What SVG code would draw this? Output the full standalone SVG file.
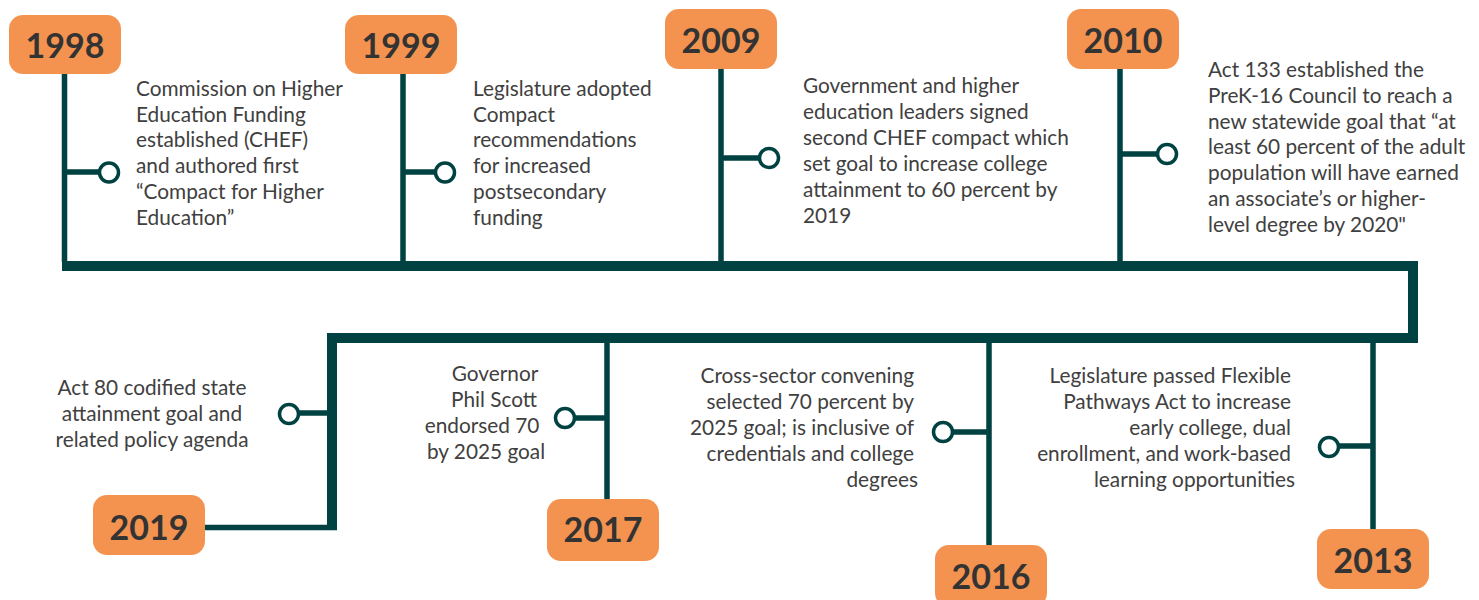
<svg xmlns="http://www.w3.org/2000/svg" width="1479" height="600" viewBox="0 0 1479 600">
<style>
.box{fill:#F4934F}
.yr{font-family:Lato,"Noto Sans",sans-serif;font-weight:700;font-size:34px;fill:#333333;text-anchor:middle}
.t{font-family:Lato,"Noto Sans",sans-serif;font-size:20.8px;fill:#404040}
.e{text-anchor:end}
.m{text-anchor:middle}
.stem{stroke:#004242;stroke-width:5.5;fill:none}
.main{stroke:#004242;stroke-width:10;fill:none;stroke-linejoin:miter}
.dot{fill:#fff;stroke:#004242;stroke-width:3.5}
</style>
<rect width="1479" height="600" fill="#fff"/>
<g id="connectors">
<path class="main" d="M62,266 H1413 V338 H332 V530"/>
<path class="stem" d="M205,527.5 H337"/>
<path class="stem" d="M64.5,74 V262 M64.5,172 H100"/>
<path class="stem" d="M403,74 V262 M403,172 H436"/>
<path class="stem" d="M721,69 V262 M721,158 H760"/>
<path class="stem" d="M1120,69 V262 M1120,154 H1158"/>
<path class="stem" d="M298,413 H328"/>
<path class="stem" d="M607,342 V499 M574,418 H607"/>
<path class="stem" d="M989,342 V545 M952,432 H989"/>
<path class="stem" d="M1373,342 V529 M1338,446 H1373"/>
</g>
<g id="n1998">
<rect class="box" x="9" y="15" width="112" height="59" rx="14"/>
<text class="yr" x="65" y="58">1998</text>
<circle class="dot" cx="109" cy="172.5" r="9.5"/>
<text class="t" x="136" y="96"><tspan x="136">Commission on Higher</tspan><tspan x="136" dy="25.7">Education Funding</tspan><tspan x="136" dy="25.7">established (CHEF)</tspan><tspan x="136" dy="25.7">and authored first</tspan><tspan x="136" dy="25.7">“Compact for Higher</tspan><tspan x="136" dy="25.7">Education”</tspan></text>
</g>
<g id="n1999">
<rect class="box" x="345" y="15" width="112" height="59" rx="14"/>
<text class="yr" x="401" y="58">1999</text>
<circle class="dot" cx="445" cy="172.5" r="9.5"/>
<text class="t" x="473" y="96"><tspan x="473">Legislature adopted</tspan><tspan x="473" dy="25.7">Compact</tspan><tspan x="473" dy="25.7">recommendations</tspan><tspan x="473" dy="25.7">for increased</tspan><tspan x="473" dy="25.7">postsecondary</tspan><tspan x="473" dy="25.7">funding</tspan></text>
</g>
<g id="n2009">
<rect class="box" x="665" y="9" width="112" height="60" rx="14"/>
<text class="yr" x="721" y="53">2009</text>
<circle class="dot" cx="769" cy="158" r="9.5"/>
<text class="t" x="803" y="93"><tspan x="803">Government and higher</tspan><tspan x="803" dy="26">education leaders signed</tspan><tspan x="803" dy="26">second CHEF compact which</tspan><tspan x="803" dy="26">set goal to increase college</tspan><tspan x="803" dy="26">attainment to 60 percent by</tspan><tspan x="803" dy="26">2019</tspan></text>
</g>
<g id="n2010">
<rect class="box" x="1067" y="9" width="112" height="60" rx="14"/>
<text class="yr" x="1123" y="53">2010</text>
<circle class="dot" cx="1167" cy="154" r="9.5"/>
<text class="t" x="1208" y="77"><tspan x="1208">Act 133 established the</tspan><tspan x="1208" dy="25.8">PreK-16 Council to reach a</tspan><tspan x="1208" dy="25.8">new statewide goal that “at</tspan><tspan x="1208" dy="25.8">least 60 percent of the adult</tspan><tspan x="1208" dy="25.8">population will have earned</tspan><tspan x="1208" dy="25.8">an associate’s or higher-</tspan><tspan x="1208" dy="25.8">level degree by 2020"</tspan></text>
</g>
<g id="n2019">
<rect class="box" x="93" y="495" width="112" height="60" rx="14"/>
<text class="yr" x="149" y="540">2019</text>
<circle class="dot" cx="289" cy="414" r="9.5"/>
<text class="t m" x="152" y="395"><tspan x="152">Act 80 codified state</tspan><tspan x="152" dy="26">attainment goal and</tspan><tspan x="152" dy="26">related policy agenda</tspan></text>
</g>
<g id="n2017">
<rect class="box" x="547" y="499" width="112" height="62" rx="14"/>
<text class="yr" x="603" y="542">2017</text>
<circle class="dot" cx="565" cy="418" r="9.5"/>
<text class="t m" x="490" y="381"><tspan x="495">Governor</tspan><tspan x="494" dy="26">Phil Scott</tspan><tspan x="482" dy="26">endorsed 70</tspan><tspan x="486" dy="26">by 2025 goal</tspan></text>
</g>
<g id="n2016">
<rect class="box" x="935" y="545" width="112" height="62" rx="14"/>
<text class="yr" x="991" y="589">2016</text>
<circle class="dot" cx="943" cy="432" r="9.5"/>
<text class="t e" x="914" y="383"><tspan x="914">Cross-sector convening</tspan><tspan x="914" dy="26">selected 70 percent by</tspan><tspan x="914" dy="26">2025 goal; is inclusive of</tspan><tspan x="914" dy="26">credentials and college</tspan><tspan x="918" dy="26">degrees</tspan></text>
</g>
<g id="n2013">
<rect class="box" x="1317" y="529" width="112" height="60" rx="14"/>
<text class="yr" x="1373" y="573">2013</text>
<circle class="dot" cx="1329" cy="447" r="9.5"/>
<text class="t e" x="1291" y="383"><tspan x="1291">Legislature passed Flexible</tspan><tspan x="1291" dy="26">Pathways Act to increase</tspan><tspan x="1291" dy="26">early college, dual</tspan><tspan x="1291" dy="26">enrollment, and work-based</tspan><tspan x="1295" dy="26">learning opportunities</tspan></text>
</g>
</svg>
